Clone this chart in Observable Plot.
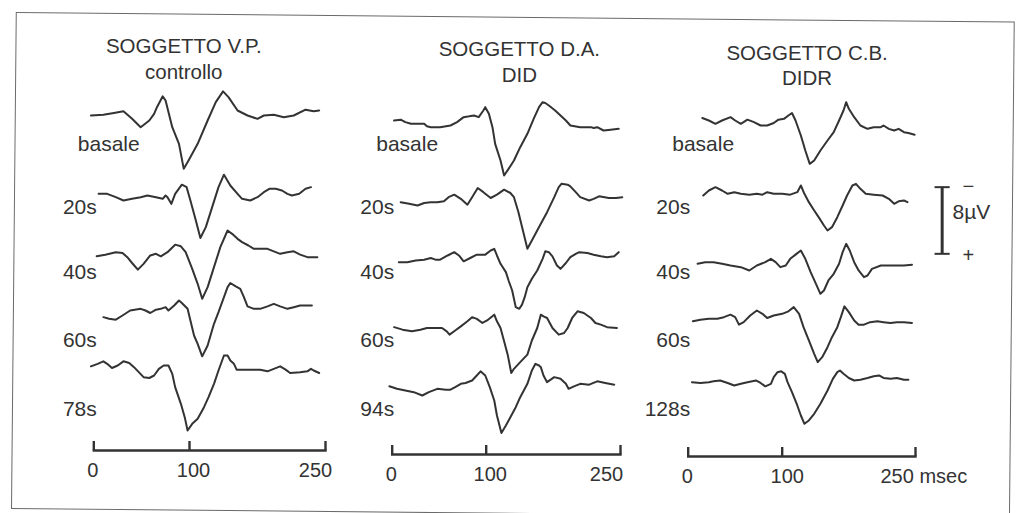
<!DOCTYPE html>
<html><head><meta charset="utf-8">
<script src="https://cdn.jsdelivr.net/npm/d3@7"></script>
<script src="https://cdn.jsdelivr.net/npm/@observablehq/plot@0.6"></script>
<style>
html,body{margin:0;padding:0;background:#fff;}
#chart{position:relative;width:1023px;height:513px;overflow:hidden;background:#fff;}
#chart svg{position:absolute;left:0;top:0;}
#frame{position:absolute;left:11px;top:12px;width:999px;height:497px;border:1.5px solid #6a6a6a;box-sizing:border-box;transform-origin:0 100%;transform:rotate(0.55deg);}
#chart svg path.domain, #chart svg g.tick line {stroke-width:2.4px;}
</style></head><body>
<div id="chart"><div id="frame"></div></div>
<script>
// ---------------- DATA ----------------
const subjects = ["SOGGETTO V.P.", "SOGGETTO D.A.", "SOGGETTO C.B."];
const groups = ["controllo", "DID", "DIDR"];
const rowLabels = [
  ["basale", "20s", "40s", "60s", "78s"],
  ["basale", "20s", "40s", "60s", "94s"],
  ["basale", "20s", "40s", "60s", "128s"]
];
const xTicks = [0, 100, 250];                 // msec
const xTickLabels = [["0", "100", "250"], ["0", "100", "250"], ["0", "100", "250 msec"]];
const scaleBarUV = 8;                          // µV calibration bar
const scaleBarText = ["−", "8µV", "+"];

// traces: [time (ms), amplitude (µV, positive = downward deflection)]
const vp_basale = [[-3,0],[10,-0.1],[21,-0.3],[31,-0.5],[40,0.4],[49,1.4],[58,0.6],[63,-0.2],[66,-1.0],[72,-2.3],[75,-1.8],[82,1.4],[89,3.4],[94,6.4],[99,5.4],[109,3.4],[120,0.6],[129,-1.6],[137,-2.9],[143,-2.2],[153,-0.6],[164,0],[175,0.4],[182,0],[193,-0.1],[204,0.2],[215,0],[228,-0.7],[237,-0.5],[243,-0.6]];
const vp_20s = [[5,0],[14,0],[23,0.4],[31,0.8],[40,0.6],[49,0.4],[56,0.2],[65,0.4],[72,0.6],[75,0.2],[77,0.4],[81,1.2],[85,0],[92,-1.1],[97,-0.8],[101,0.8],[107,3.2],[112,5.3],[118,4.0],[125,1.6],[132,-0.8],[138,-2.3],[145,-1.0],[153,0],[158,0.6],[167,0.8],[175,0.4],[182,-0.2],[188,-0.6],[195,-0.6],[202,-0.4],[208,0],[213,0.2],[221,0],[228,-0.6],[234,-0.8]];
const vp_40s = [[3,0.1],[12,-0.1],[23,-0.4],[30,-0.3],[35,0.2],[40,0.9],[46,1.7],[52,1.0],[59,0],[65,-0.2],[70,0.1],[77,-0.4],[85,-1.3],[91,-1.1],[96,-0.4],[103,1.6],[109,3.4],[114,5.2],[120,3.8],[127,1.4],[134,-1.0],[142,-3.0],[147,-2.6],[153,-2.0],[158,-1.6],[165,-1.2],[171,-0.8],[178,-0.8],[186,-0.8],[193,-0.5],[200,-0.2],[208,-0.4],[215,-0.5],[222,-0.1],[230,0.2],[241,0.2]];
const vp_60s = [[10,0.6],[16,0.8],[23,0.9],[30,0.4],[38,-0.2],[49,-0.4],[54,-0.2],[59,0.1],[65,-0.3],[70,-0.4],[75,-0.6],[78,-0.2],[84,-0.8],[89,-1.4],[92,-1.1],[98,-0.4],[101,1.0],[105,2.8],[109,3.8],[114,5.3],[120,4.0],[127,1.4],[132,0],[138,-1.8],[142,-3.0],[145,-3.5],[151,-3.1],[156,-2.8],[160,-1.8],[164,-0.7],[171,-0.4],[178,-0.4],[186,-0.7],[193,-1.0],[200,-0.7],[208,-0.4],[215,-0.6],[222,-0.8],[235,-0.8]];
const vp_78s = [[-3,0],[4,-0.3],[10,-0.6],[14,-0.3],[19,0.2],[25,-0.1],[31,-0.6],[37,-0.4],[42,0.1],[47,0.7],[52,1.3],[58,1.4],[63,1.1],[68,0.3],[73,-0.1],[78,-0.1],[82,0.9],[85,2.5],[91,4.5],[95,6.1],[98,7.7],[103,6.9],[109,6.3],[116,4.9],[121,3.7],[127,2.1],[132,0.5],[138,-1.3],[142,-1.3],[145,-0.7],[149,-0.3],[152,0.4],[164,0.4],[178,0.4],[186,0.6],[193,0.3],[200,0],[206,0.4],[211,0.8],[222,0.7],[230,0.6],[234,0.3],[237,0.5],[243,0.8]];

const da_basale = [[2,-0.2],[9,-0.3],[14,0],[20,0.2],[27,0.2],[34,0.2],[37,0.5],[41,0.6],[51,0.6],[62,0.4],[69,0],[76,-0.6],[82,-0.7],[87,-0.8],[92,-0.6],[97,-1.4],[99,-1.8],[103,-1.0],[107,0.6],[110,2.6],[116,4.6],[120,6.4],[125,5.6],[131,4.6],[138,3.0],[146,1.4],[153,-0.4],[159,-1.8],[163,-2.4],[166,-2.3],[170,-2.0],[177,-1.4],[183,-0.8],[189,-0.2],[194,0.4],[205,0.6],[217,0.6],[220,0.7],[224,0.6],[231,1.0],[239,0.9],[248,0.8]];
const da_20s = [[9,0.1],[18,0.3],[27,0.5],[34,0.2],[41,0.1],[48,0.1],[55,0],[60,-0.5],[66,-0.8],[73,-0.3],[80,0.4],[85,-0.5],[91,-1.6],[97,-1.1],[105,-0.4],[112,-0.8],[120,-1.4],[127,-1.0],[131,-0.5],[136,1.3],[141,3.5],[146,5.7],[151,4.7],[161,2.7],[168,1.3],[176,-0.5],[181,-1.7],[184,-2.1],[191,-2.0],[194,-1.8],[200,-1.1],[205,-0.5],[215,-0.1],[220,-0.3],[226,-0.6],[237,-0.4],[245,-0.4],[252,-0.5]];
const da_40s = [[7,0.2],[16,0.2],[25,0],[34,-0.1],[41,-0.3],[46,-0.1],[51,-0.1],[59,-0.6],[66,-1.0],[71,-0.6],[76,0.1],[83,-0.3],[90,-0.7],[99,-0.7],[105,-1.2],[109,-1.4],[112,-0.6],[116,0.4],[122,1.4],[125,2.4],[129,3.6],[133,5.6],[137,5.8],[140,5.3],[143,4.4],[146,3.2],[151,2.2],[157,1.2],[163,-0.2],[166,-1.1],[170,-1.0],[174,-0.5],[179,0.6],[183,1.0],[189,0.3],[194,-0.4],[200,-0.8],[204,-1.0],[213,-0.9],[220,-0.7],[228,-0.5],[235,-0.4],[243,-0.5],[248,-1.0]];
const da_60s = [[2,-0.1],[11,0.2],[21,0.4],[30,0.2],[37,0],[46,0],[53,0],[58,0.4],[61,0.8],[67,0.3],[73,-0.2],[80,-0.8],[85,-1.3],[90,-1.1],[96,-0.6],[101,-0.9],[109,-1.6],[112,-0.8],[116,0],[120,1.6],[124,3.2],[128,5.4],[131,4.9],[138,4.1],[146,3.2],[151,1.5],[157,0],[161,-1.6],[164,-1.4],[168,-1.2],[174,0],[181,0.8],[187,0.6],[191,0],[196,-1.2],[202,-2.0],[209,-1.8],[217,-1.2],[222,-0.6],[228,-0.4],[235,-0.1],[246,0]];
const da_94s = [[-3,0],[5,0.3],[14,0.5],[23,0.7],[32,1.1],[39,0.7],[48,0.3],[57,0.4],[62,0.4],[67,0.1],[73,-0.3],[78,-0.4],[85,-0.7],[90,-1.3],[94,-1.8],[99,-1.3],[104,0.1],[109,1.7],[112,3.5],[117,5.6],[122,4.7],[127,3.7],[133,2.5],[138,1.3],[146,-0.3],[151,-1.9],[155,-2.7],[159,-2.5],[161,-2.3],[164,-1.3],[168,-0.5],[172,-0.8],[176,-1.1],[183,-0.9],[189,-0.3],[192,0.3],[198,0],[205,-0.3],[215,-0.2],[224,-0.6],[233,-0.4],[243,-0.2]];

const cb_basale = [[15,-0.3],[22,0],[29,0.4],[36,0],[45,-0.4],[50,0],[56,0.4],[63,-0.1],[70,0.2],[77,0.6],[84,0.6],[91,0.3],[96,-0.1],[102,-0.2],[107,-0.6],[111,-0.9],[115,0],[121,1.8],[126,3.6],[131,5.2],[136,4.8],[143,3.6],[151,2.4],[158,1.4],[164,0],[169,-1.2],[172,-2.2],[175,-1.4],[181,-0.4],[188,0.6],[196,1.0],[203,0.8],[211,0.8],[214,0.6],[220,1.0],[226,1.2],[231,1.0],[237,1.4],[242,1.5],[249,1.7]];
const cb_20s = [[16,0.2],[22,-0.4],[29,-0.8],[36,-0.4],[42,0],[49,-0.2],[56,0],[65,0.1],[73,0],[79,0.1],[84,-0.2],[91,0],[100,0],[109,0.1],[117,-0.2],[121,-1.0],[125,0],[130,1.0],[136,2.0],[141,2.8],[147,3.8],[151,4.4],[156,4.0],[162,2.8],[168,1.4],[173,0.2],[179,-1.0],[183,-1.2],[188,-0.6],[194,0],[203,0.1],[213,0.2],[220,0.6],[226,1.2],[231,0.9],[237,0.8],[241,1.0]];
const cb_40s = [[10,0],[18,-0.2],[27,-0.2],[36,0],[45,0.2],[56,0.4],[65,0.8],[73,0.2],[82,-0.2],[88,-0.6],[93,-0.2],[98,0.4],[104,0.2],[109,-0.6],[115,-1.1],[121,-1.6],[126,-0.6],[132,1.0],[138,2.4],[143,3.6],[147,3.2],[152,2.0],[158,1.2],[164,0],[168,-1.4],[172,-2.4],[176,-1.6],[181,-0.2],[186,0.8],[192,1.6],[196,1.4],[201,0.6],[211,0.2],[218,0.2],[226,0.2],[237,0.2],[246,0.1]];
const cb_60s = [[5,0.2],[13,0],[22,-0.1],[31,-0.1],[38,-0.3],[45,-0.6],[50,-0.3],[54,0.6],[59,0.3],[66,-0.5],[73,-1.1],[79,-0.7],[84,-0.2],[91,-0.5],[100,-0.7],[107,-1.0],[113,-1.5],[119,-0.7],[124,0.9],[130,2.5],[136,4.1],[140,5.1],[145,4.5],[151,3.3],[156,2.1],[162,0.9],[166,-0.3],[170,-1.6],[175,-0.9],[181,0.1],[186,0.6],[192,0.6],[199,0.3],[207,0.2],[214,0.3],[222,0.4],[229,0.3],[237,0.3],[246,0.4]];
const cb_128s = [[4,0.1],[13,0.2],[22,0.1],[27,0],[34,-0.1],[42,0.2],[49,0.5],[56,0.3],[63,0.1],[72,-0.1],[77,0.2],[82,0.6],[88,0.3],[91,-0.5],[95,-1.1],[99,-1.2],[103,-0.9],[106,0.1],[111,1.3],[117,2.9],[121,4.1],[125,5.1],[130,4.7],[136,3.9],[143,2.7],[151,1.1],[157,-0.3],[162,-1.1],[165,-1.3],[169,-0.9],[175,-0.4],[181,-0.1],[188,-0.2],[196,-0.4],[203,-0.6],[209,-0.7],[214,-0.4],[222,-0.3],[229,-0.4],[237,-0.2],[242,-0.2]];

// ---------------- LAYOUT (stacking in µV, positions, styles) ----------------
const W = 1023, H = 513;
const PX_PER_UV = 8.333;
const REF_PX = 115;                                   // pixel row of the first baseline
const yDomain = [-REF_PX / PX_PER_UV, (H - REF_PX) / PX_PER_UV];
const stackOffsets = [[0, 9.4, 16.8, 23.6, 30.1], [0.8, 10.3, 17.4, 25.5, 32.5], [0.6, 9.4, 17.8, 24.5, 31.9]];
const labelRows = [3.4, 11.0, 18.8, 27.0, 35.2];
const panelLayout = [
  {xRange: [93.3, 189, 325],   axisY: 450, titleX: 94,  titleDy: [38.4, 63.5], tickDx: [-1, 4, -10], tickAnchor: ["middle", "middle", "middle"], labelDx: 3},
  {xRange: [391.7, 485.7, 620], axisY: 454, titleX: 137, titleDy: [41.4, 66.5], tickDx: [-1, 4, -14], tickAnchor: ["middle", "middle", "middle"], labelDx: 2},
  {xRange: [687.7, 781.7, 915], axisY: 456, titleX: 128, titleDy: [45, 70], tickDx: [-1, 5, -35], tickAnchor: ["middle", "middle", "start"], labelDx: 2}
];
const traces = [
  [vp_basale, vp_20s, vp_40s, vp_60s, vp_78s],
  [da_basale, da_20s, da_40s, da_60s, da_94s],
  [cb_basale, cb_20s, cb_40s, cb_60s, cb_128s]
];
const scaleBarLayout = {x: 280, top: 8.6, capX: [272, 289], signX: 309.6, textX: 291.6};

const INK = "#333333";
const FONT = "'Liberation Sans', Arial, Helvetica, sans-serif";
const AXIS_W = 2.4;
const hasAxisMarks = typeof Plot.axisX === "function";

function panelChart(p) {
  const L = panelLayout[p];
  const rows = [];
  traces[p].forEach((tr, i) => tr.forEach(([t, v]) => rows.push({t, y: v + stackOffsets[p][i], row: i})));
  const labels = rowLabels[p].map((l, i) => ({l, y: labelRows[i]}));
  const marks = [];
  if (hasAxisMarks) {
    marks.push(
      Plot.axisX({ticks: xTicks, tickSize: -9, tickFormat: () => "", strokeWidth: AXIS_W, label: null}),
      Plot.frame({anchor: "bottom", strokeWidth: AXIS_W})
    );
  }
  marks.push(
    Plot.line(rows, {x: "t", y: "y", z: "row", stroke: INK, strokeWidth: 2, strokeLinejoin: "round", strokeLinecap: "round"}),
    Plot.text(labels.slice(0, 1), {x: () => 0, y: "y", text: "l", textAnchor: "start", dx: -16, fontSize: 21}),
    Plot.text(labels.slice(1), {x: () => 0, y: "y", text: "l", textAnchor: "end", dx: L.labelDx, fontSize: 21}),
    Plot.text([subjects[p]], {x: () => L.titleX, frameAnchor: "top", dy: L.titleDy[0], text: d => d, fontSize: 20.5}),
    Plot.text([groups[p]], {x: () => L.titleX, frameAnchor: "top", dy: L.titleDy[1], text: d => d, fontSize: 20.5}),
    ...xTicks.map((v, i) => Plot.text([v], {x: d => d, frameAnchor: "bottom", dy: 26.7, text: () => xTickLabels[p][i], textAnchor: L.tickAnchor[i], dx: L.tickDx[i], fontSize: 20}))
  );
  if (p === 2) {
    const S = scaleBarLayout;
    marks.push(
      Plot.ruleX([S.x], {y1: () => S.top, y2: () => S.top + scaleBarUV, stroke: INK, strokeWidth: 3}),
      Plot.ruleY([S.top, S.top + scaleBarUV], {x1: () => S.capX[0], x2: () => S.capX[1], stroke: INK, strokeWidth: 2}),
      Plot.text([scaleBarText[0]], {x: () => S.signX, y: () => S.top - 0.1, text: d => d, fontSize: 20}),
      Plot.text([scaleBarText[1]], {x: () => S.textX, y: () => S.top + scaleBarUV * 0.38, text: d => d, textAnchor: "start", fontSize: 21}),
      Plot.text([scaleBarText[2]], {x: () => S.signX, y: () => S.top + scaleBarUV + 0.2, text: d => d, fontSize: 20})
    );
  }
  const xOpts = {type: "linear", domain: xTicks, range: L.xRange, label: null};
  if (!hasAxisMarks) Object.assign(xOpts, {ticks: xTicks, tickSize: -9, tickFormat: () => "", line: true});
  return Plot.plot({
    width: W, height: H,
    marginLeft: L.xRange[0], marginRight: W - L.xRange[2], marginTop: 0, marginBottom: H - L.axisY,
    x: xOpts,
    y: {type: "linear", domain: yDomain, range: [0, H], axis: null},
    style: {background: "transparent", color: INK, fontFamily: FONT, overflow: "visible"},
    marks
  });
}

const chart = document.getElementById("chart");
[0, 1, 2].forEach(p => chart.append(panelChart(p)));
</script>
</body></html>
